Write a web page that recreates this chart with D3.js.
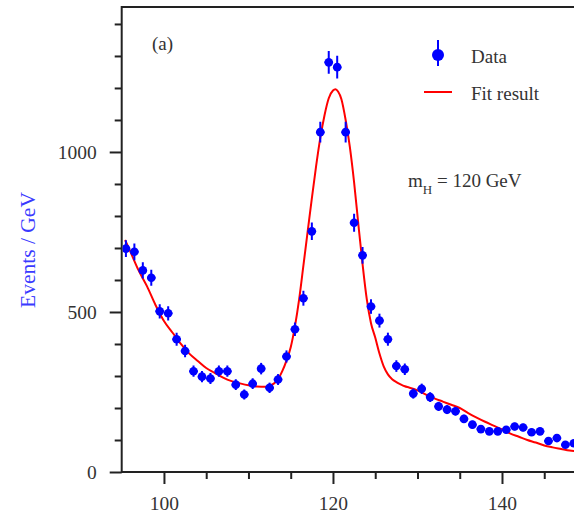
<!DOCTYPE html>
<html>
<head>
<meta charset="utf-8">
<script src="https://cdn.jsdelivr.net/npm/d3@7"></script>
<style>
  html, body { margin: 0; padding: 0; background: #fff; }
  svg { display: block; font-family: "Liberation Serif", "Times New Roman", serif; }
</style>
</head>
<body>
<svg id="chart" width="574" height="519"></svg>
<script>
// ---- data ----
const binCenters = [95.5, 96.5, 97.5, 98.5, 99.5, 100.5, 101.5, 102.5, 103.5, 104.5,
  105.5, 106.5, 107.5, 108.5, 109.5, 110.5, 111.5, 112.5, 113.5, 114.5,
  115.5, 116.5, 117.5, 118.5, 119.5, 120.5, 121.5, 122.5, 123.5, 124.5,
  125.5, 126.5, 127.5, 128.5, 129.5, 130.5, 131.5, 132.5, 133.5, 134.5,
  135.5, 136.5, 137.5, 138.5, 139.5, 140.5, 141.5, 142.5, 143.5, 144.5,
  145.5, 146.5, 147.5, 148.5];
const dataEvents = [698, 688, 630, 607, 502, 496, 415, 378, 315, 298,
  292, 315, 315, 273, 242, 276, 323, 263, 289, 361,
  446, 543, 752, 1062, 1280, 1265, 1062, 779, 677, 517,
  473, 415, 331, 321, 245, 260, 234, 205, 195, 190,
  166, 148, 134, 127, 127, 132, 142, 139, 124, 127,
  97, 106, 85, 90];
const fitMass = [95.4, 96.0, 97.0, 98.0, 99.0, 100.0, 101.0, 102.0, 103.0, 104.0,
  105.0, 106.0, 107.0, 108.0, 109.0, 110.0, 111.0, 112.0, 113.0, 113.5,
  114.0, 114.5, 115.0, 115.5, 116.0, 116.5, 117.0, 117.5, 118.0, 118.5,
  119.0, 119.5, 120.0, 120.3, 120.6, 121.0, 121.5, 122.0, 122.5, 123.0,
  123.5, 124.0, 124.5, 125.0, 125.5, 126.0, 126.5, 127.0, 127.5, 128.0,
  128.5, 129.0, 130.0, 131.0, 132.0, 133.0, 134.0, 135.0, 136.0, 137.0,
  138.0, 139.0, 140.0, 141.0, 142.0, 143.0, 144.0, 145.0, 146.0, 147.0,
  148.0, 149.0, 150.0];
const fitValue = [725, 690, 630, 580, 522, 472, 436, 400, 370, 347,
  325, 310, 295, 284, 277, 271, 267, 266, 276, 290,
  315, 348, 390, 455, 540, 645, 750, 855, 955, 1044,
  1115, 1168, 1192, 1196, 1189, 1165, 1100, 1015, 905, 775,
  650, 540, 465, 420, 370, 330, 305, 290, 281, 274,
  268, 264, 255, 242, 230, 220, 210, 200, 184, 170,
  157, 145, 133, 120, 110, 100, 92, 83, 77, 72,
  67, 64, 62];
const xMajorTicks = [100, 120, 140];
const xMinorTicks = [105, 110, 115, 125, 130, 135, 145];
const yMajorTicks = [0, 500, 1000];
const yMinorTicks = [100, 200, 300, 400, 600, 700, 800, 900, 1100, 1200, 1300, 1400];
const legendLabels = ["Data", "Fit result"];

// ---- layout ----
const svg = d3.select("#chart");
const x = d3.scaleLinear().domain([95, 150]).range([121.7, 586.5]);
const y = d3.scaleLinear().domain([0, 1453]).range([472, 7]);
const axisColor = "#222";
const textColor = "#333";
const blue = "#0000ff";
const red = "#ff0000";

// top frame line (right side cropped)
svg.append("line").attr("x1", x(95)).attr("x2", 580).attr("y1", y(1453)).attr("y2", y(1453))
  .attr("stroke", axisColor).attr("stroke-width", 2);

// x axis
const xAxisG = svg.append("g").attr("transform", `translate(0,${y(0)})`);
xAxisG.call(d3.axisBottom(x).tickValues(xMajorTicks).tickSize(12).tickPadding(12).tickFormat(d3.format("d")));
const xMinorG = svg.append("g").attr("transform", `translate(0,${y(0)})`);
xMinorG.call(d3.axisBottom(x).tickValues(xMinorTicks).tickSize(7).tickFormat(""));
xMinorG.select(".domain").remove();

// y axis
const yAxisG = svg.append("g").attr("transform", `translate(${x(95)},0)`);
yAxisG.call(d3.axisLeft(y).tickValues(yMajorTicks).tickSize(12).tickPadding(13).tickFormat(d3.format("d")));
const yMinorG = svg.append("g").attr("transform", `translate(${x(95)},0)`);
yMinorG.call(d3.axisLeft(y).tickValues(yMinorTicks).tickSize(7).tickFormat(""));
yMinorG.select(".domain").remove();

xAxisG.select(".domain").remove();
yAxisG.select(".domain").remove();
svg.append("line").attr("x1", x(95)).attr("x2", 580).attr("y1", y(0)).attr("y2", y(0))
  .attr("stroke", axisColor).attr("stroke-width", 2);
svg.append("line").attr("x1", x(95)).attr("x2", x(95)).attr("y1", y(1453) - 1).attr("y2", y(0) + 1)
  .attr("stroke", axisColor).attr("stroke-width", 2);

svg.selectAll(".tick line").attr("stroke", axisColor).attr("stroke-width", 2);
svg.selectAll(".tick text").attr("fill", textColor)
  .style("font-family", "'Liberation Serif', serif").style("font-size", "19.5px");

// y label
svg.append("text")
  .attr("transform", `translate(35,250) rotate(-90)`)
  .attr("text-anchor", "middle")
  .attr("fill", "#3a3aff")
  .style("font-size", "21.5px")
  .text("Events / GeV");

// clip region
svg.append("clipPath").attr("id", "plotclip").append("rect")
  .attr("x", x(95) + 1).attr("y", y(1453)).attr("width", 600).attr("height", y(0) - y(1453));

const plot = svg.append("g").attr("clip-path", "url(#plotclip)");

// fit curve
const fitPts = fitMass.map((m, i) => [m, fitValue[i]]);
plot.append("path")
  .datum(fitPts)
  .attr("fill", "none")
  .attr("stroke", red)
  .attr("stroke-width", 2)
  .attr("d", d3.line().x(d => x(d[0])).y(d => y(d[1])).curve(d3.curveMonotoneX));

// data points
const pts = binCenters.map((m, i) => ({ m, v: dataEvents[i], e: Math.sqrt(dataEvents[i]) }));
const g = plot.append("g").selectAll("g").data(pts).join("g");
g.append("line")
  .attr("x1", d => x(d.m)).attr("x2", d => x(d.m))
  .attr("y1", d => y(d.v + d.e)).attr("y2", d => y(d.v - d.e))
  .attr("stroke", blue).attr("stroke-width", 2);
g.append("line")
  .attr("x1", d => x(d.m - 0.5)).attr("x2", d => x(d.m + 0.5))
  .attr("y1", d => y(d.v)).attr("y2", d => y(d.v))
  .attr("stroke", blue).attr("stroke-width", 2);
g.append("circle")
  .attr("cx", d => x(d.m)).attr("cy", d => y(d.v)).attr("r", 4.3)
  .attr("fill", blue);

// panel label
svg.append("text").attr("x", 152).attr("y", 50).attr("fill", textColor)
  .style("font-size", "19px").text("(a)");

// legend
svg.append("line").attr("x1", 438).attr("x2", 438).attr("y1", 40).attr("y2", 66)
  .attr("stroke", blue).attr("stroke-width", 2);
svg.append("circle").attr("cx", 438).attr("cy", 55).attr("r", 6).attr("fill", blue);
svg.append("text").attr("x", 471).attr("y", 63).attr("fill", textColor)
  .style("font-size", "19px").text(legendLabels[0]);
svg.append("line").attr("x1", 424).attr("x2", 452).attr("y1", 92).attr("y2", 92)
  .attr("stroke", red).attr("stroke-width", 2);
svg.append("text").attr("x", 471).attr("y", 100).attr("fill", textColor)
  .style("font-size", "19px").text(legendLabels[1]);

// mass annotation
const ann = svg.append("text").attr("x", 408).attr("y", 187).attr("fill", textColor)
  .style("font-size", "19px");
ann.append("tspan").text("m");
ann.append("tspan").attr("dy", 7).style("font-size", "13px").text("H");
ann.append("tspan").attr("dy", -7).text(" = 120 GeV");
</script>
</body>
</html>
